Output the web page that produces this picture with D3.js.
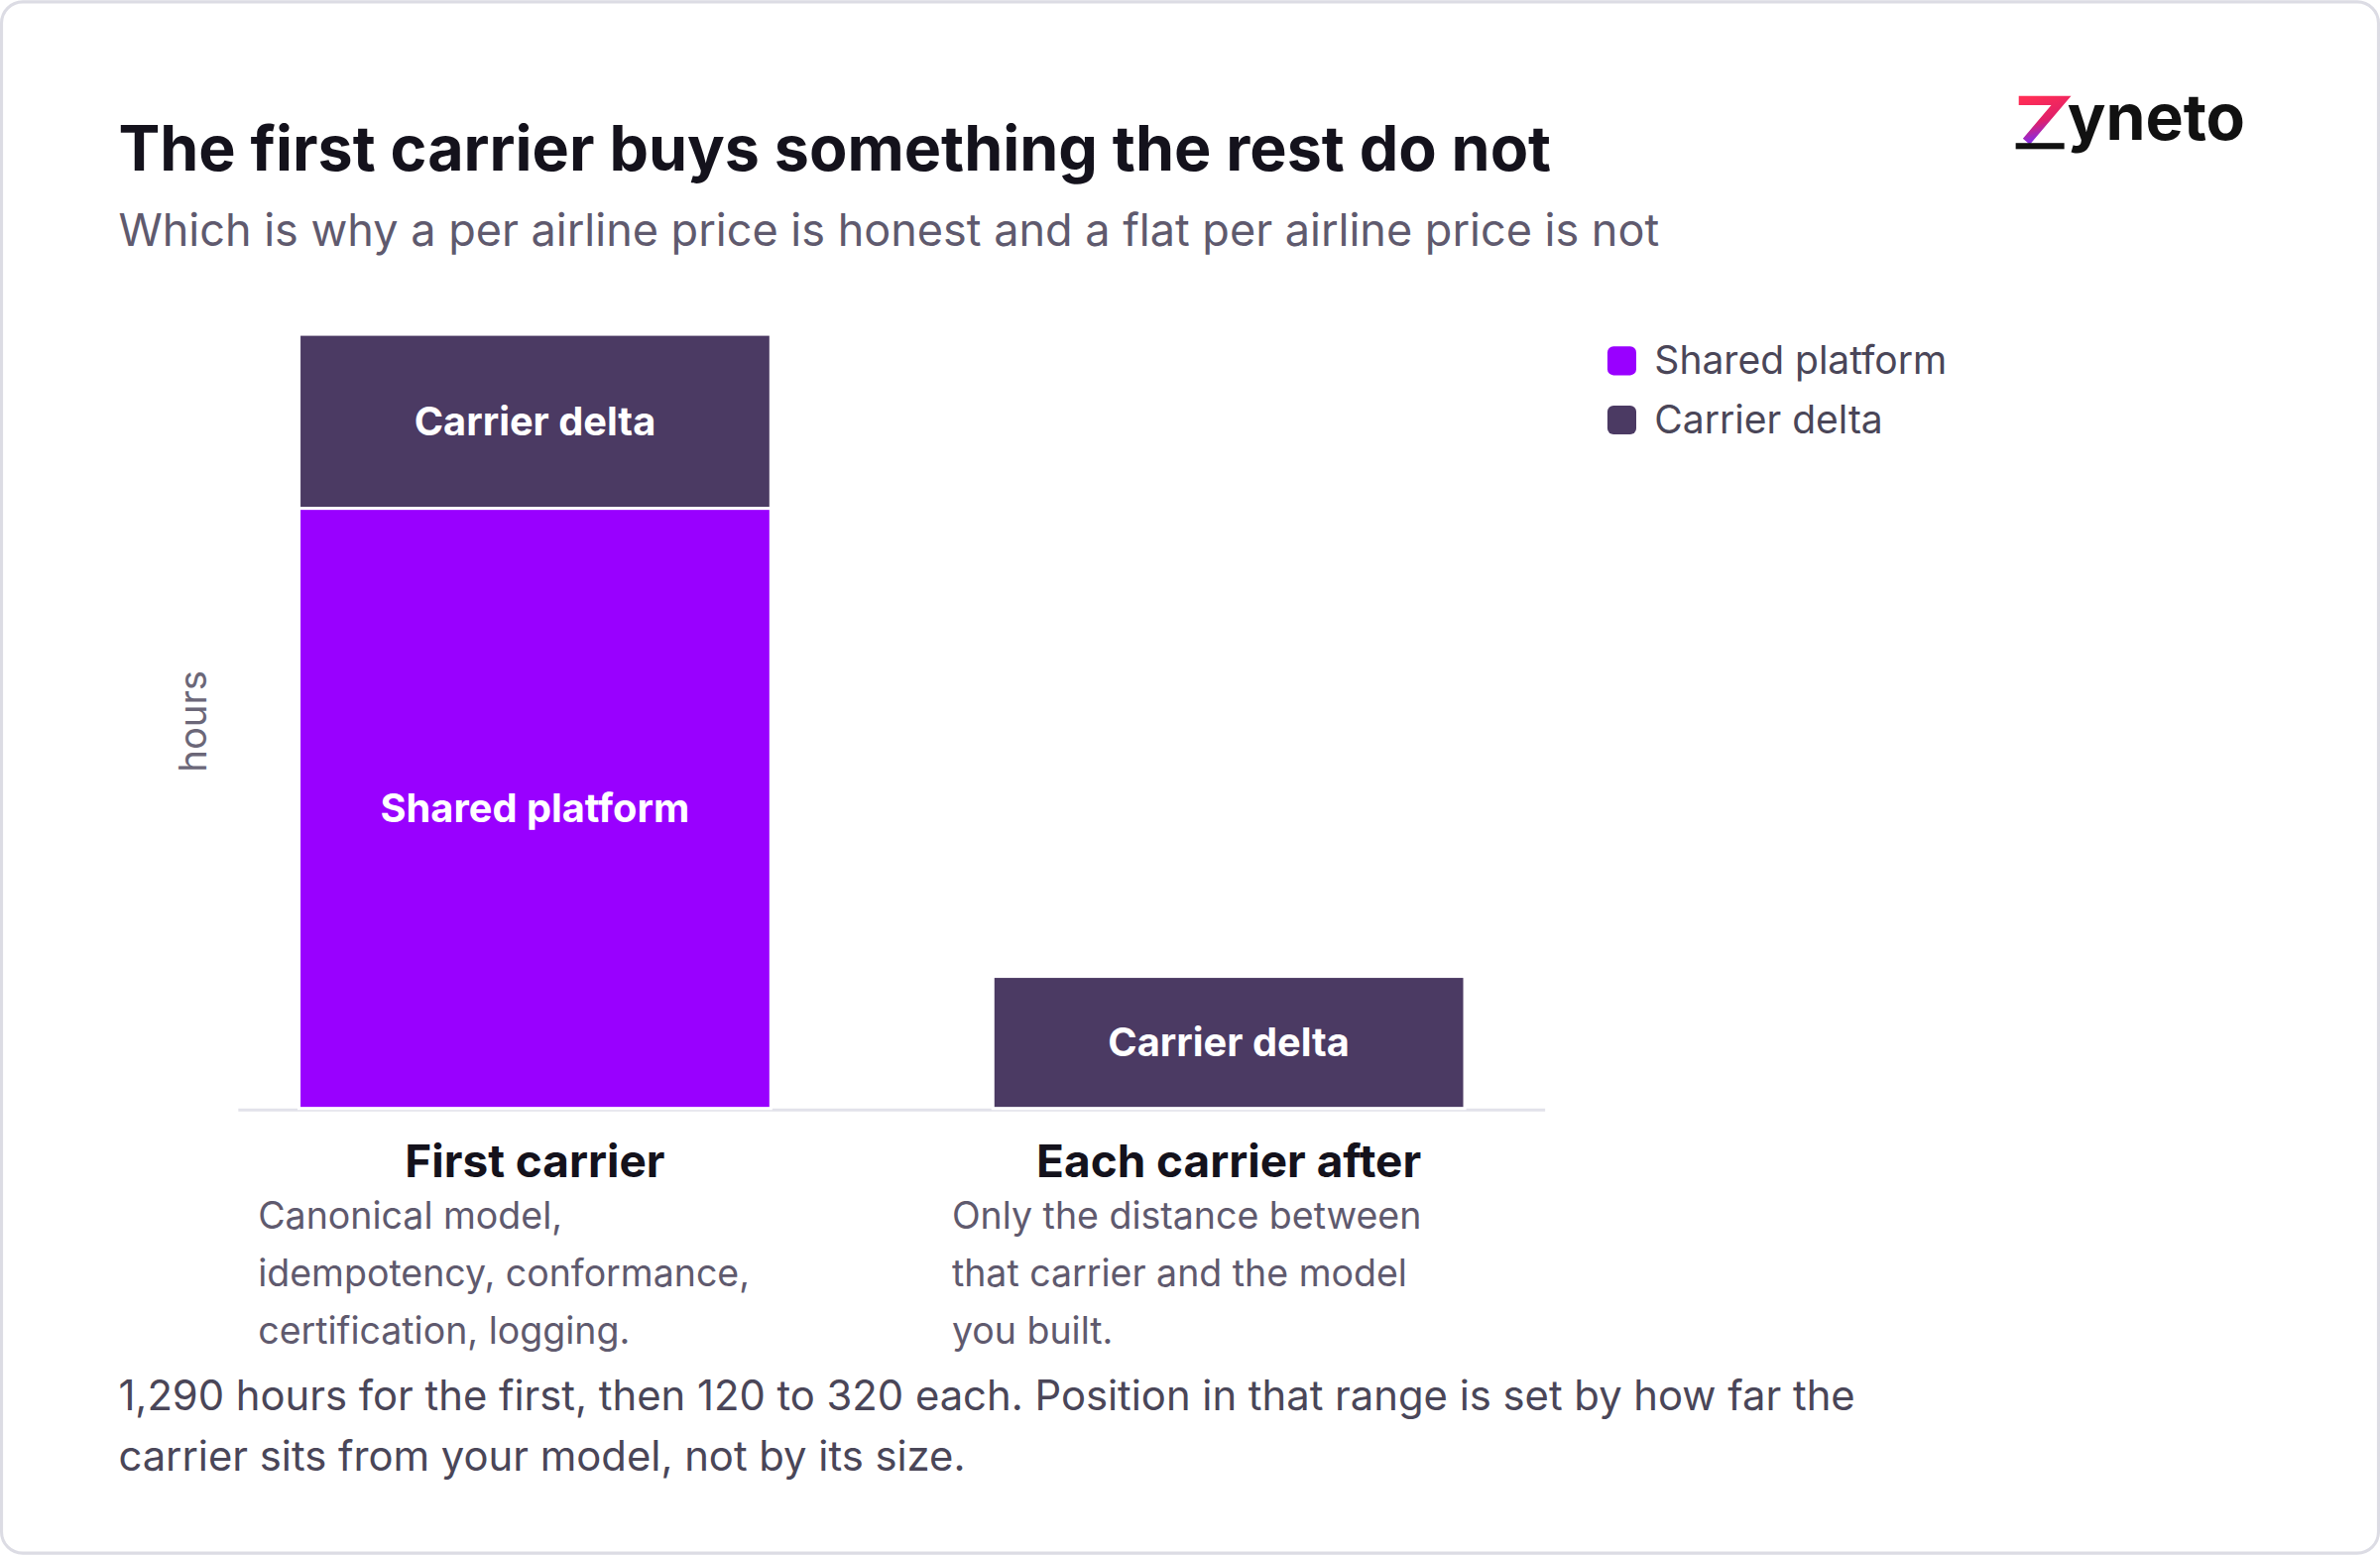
<!DOCTYPE html>
<html>
<head>
<meta charset="utf-8">
<script src="https://cdn.jsdelivr.net/npm/d3@7"></script>
<style>
  html, body { margin: 0; padding: 0; background: #fff; }
  svg { display: block; font-family: Inter, "Liberation Sans", Arial, sans-serif; }
</style>
</head>
<body>
<svg id="chart" width="2400" height="1568" viewBox="0 0 1568 1024"></svg>
<script>
// data
const categories = ["First carrier", "Each carrier after"];
const sharedPlatform = [1000, 0];
const carrierDelta = [290, 220];
const seriesNames = ["Shared platform", "Carrier delta"];
const seriesColors = ["#9900ff", "#4b3a63"];
const descriptions = [
  ["Canonical model,", "idempotency, conformance,", "certification, logging."],
  ["Only the distance between", "that carrier and the model", "you built."]
];

const svg = d3.select("#chart");

// card
svg.append("rect")
  .attr("x", 1).attr("y", 1).attr("width", 1566).attr("height", 1022)
  .attr("rx", 14).attr("fill", "#fff").attr("stroke", "#dcdce4").attr("stroke-width", 2);

svg.append("text").attr("x", 78).attr("y", 112)
  .attr("font-size", 41).attr("font-weight", 700).attr("fill", "#14121c")
  .text("The first carrier buys something the rest do not");
svg.append("text").attr("x", 78).attr("y", 162)
  .attr("font-size", 29.4).attr("fill", "#5f5a6e")
  .text("Which is why a per airline price is honest and a flat per airline price is not");

// logo
const defs = svg.append("defs");
const grad = defs.append("linearGradient").attr("id", "zg")
  .attr("x1", "0").attr("y1", "0").attr("x2", "0.3").attr("y2", "1");
grad.append("stop").attr("offset", "0").attr("stop-color", "#ff2d55");
grad.append("stop").attr("offset", "0.6").attr("stop-color", "#e0206a");
grad.append("stop").attr("offset", "1").attr("stop-color", "#8a2be2");
svg.append("path")
  .attr("d", "M1330,66 L1358,66 L1335,93")
  .attr("fill", "none").attr("stroke", "url(#zg)").attr("stroke-width", 6).attr("stroke-linejoin", "miter");
svg.append("rect").attr("x", 1328).attr("y", 94).attr("width", 32).attr("height", 4).attr("fill", "#111");
svg.append("text").attr("x", 1362).attr("y", 92)
  .attr("font-size", 42).attr("font-weight", 700).attr("fill", "#111")
  .text("yneto");

// scales
const x = d3.scaleBand().domain(categories).range([197, 965])
  .paddingInner(0.32).paddingOuter(0);
const y = d3.scaleLinear().domain([0, 1290]).range([730, 220]);

// baseline
svg.append("line").attr("x1", 157).attr("x2", 1018).attr("y1", 731).attr("y2", 731)
  .attr("stroke", "#e2e2ea").attr("stroke-width", 2);

const stackData = categories.map((c, i) => ({ cat: c, shared: sharedPlatform[i], delta: carrierDelta[i] }));
const stack = d3.stack().keys(["shared", "delta"])(stackData);

stack.forEach((layer, li) => {
  svg.append("g").selectAll("rect")
    .data(layer.filter(d => d[1] > d[0]))
    .join("rect")
    .attr("x", d => x(d.data.cat))
    .attr("width", x.bandwidth())
    .attr("y", d => y(d[1]))
    .attr("height", d => y(d[0]) - y(d[1]))
    .attr("fill", seriesColors[li])
    .attr("stroke", "#fff").attr("stroke-width", 2);
  svg.append("g").selectAll("text")
    .data(layer.filter(d => d[1] > d[0]))
    .join("text")
    .attr("x", d => x(d.data.cat) + x.bandwidth() / 2)
    .attr("y", d => (y(d[0]) + y(d[1])) / 2 + 9)
    .attr("text-anchor", "middle")
    .attr("font-size", 26).attr("font-weight", 700).attr("fill", "#fff")
    .text(seriesNames[li]);
});

// category labels and descriptions
categories.forEach((c, i) => {
  const cx = x(c) + x.bandwidth() / 2;
  svg.append("text").attr("x", cx).attr("y", 775).attr("text-anchor", "middle")
    .attr("font-size", 30).attr("font-weight", 700).attr("fill", "#14121c").text(c);
  descriptions[i].forEach((line, j) => {
    svg.append("text").attr("x", x(c) - 27).attr("y", 809 + j * 38)
      .attr("font-size", 24.5).attr("fill", "#5f5a6e").text(line);
  });
});

// y label
svg.append("text").attr("transform", "translate(136,475) rotate(-90)")
  .attr("text-anchor", "middle").attr("font-size", 25).attr("fill", "#6b6778").text("hours");

// legend
seriesNames.forEach((s, i) => {
  svg.append("rect").attr("x", 1059).attr("y", 228 + i * 39).attr("width", 19).attr("height", 19)
    .attr("rx", 4).attr("fill", seriesColors[i]);
  svg.append("text").attr("x", 1090).attr("y", 246 + i * 39)
    .attr("font-size", 25.5).attr("fill", "#4a4658").text(s);
});

// footer
["1,290 hours for the first, then 120 to 320 each. Position in that range is set by how far the",
 "carrier sits from your model, not by its size."].forEach((t, j) => {
  svg.append("text").attr("x", 78).attr("y", 929 + j * 40)
    .attr("font-size", 27.3).attr("fill", "#4a4658").text(t);
});
</script>
</body>
</html>
